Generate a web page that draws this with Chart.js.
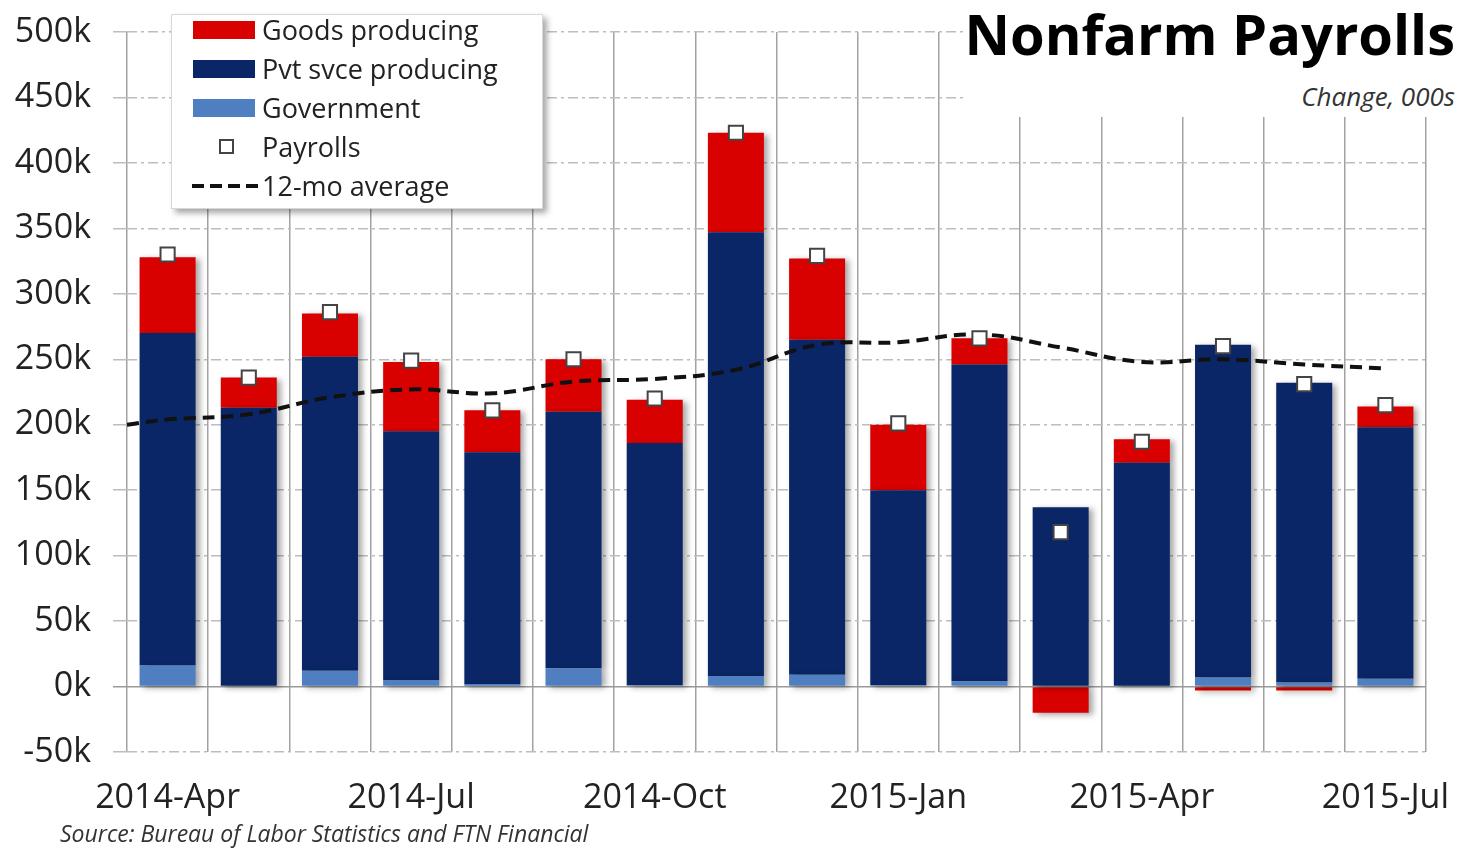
<!DOCTYPE html>
<html>
<head>
<meta charset="utf-8">
<script src="https://cdn.jsdelivr.net/npm/chart.js@4/dist/chart.umd.min.js"></script>
<style>
  body { margin: 0; background: #fff; font-family: "Open Sans", sans-serif; }
  #wrap { position: relative; width: 1464px; height: 848px; }
  #title-box { position: absolute; left: 963px; top: 0; width: 501px; height: 117px; background: #fff; }
  #title { position: absolute; right: 9px; top: 5px; font-size: 56px; font-weight: 700; line-height: 1; color: #000; white-space: nowrap; }
  #subtitle { position: absolute; right: 9px; top: 83px; font-size: 26px; font-style: italic; line-height: 1; color: #333; white-space: nowrap; }
  #legend { position: absolute; left: 171px; top: 14px; width: 370px; height: 193px; background: #fff;
            border: 1px solid #d8d8d8; box-shadow: 4px 4px 6px rgba(0,0,0,0.35); }
  .sw { position: absolute; left: 21px; width: 62px; height: 18px; }
  .lbl { position: absolute; left: 90px; font-size: 27px; line-height: 1; color: #222; white-space: nowrap; }
  .box { position: absolute; left: 47px; width: 11px; height: 11px; border: 2px solid #444; background: #fff; }
  .dash { position: absolute; left: 20px; width: 68px; height: 4px;
          background: repeating-linear-gradient(90deg, #111 0 12px, transparent 12px 18px); }
  #source { position: absolute; left: 60px; top: 822px; font-size: 23px; font-style: italic; line-height: 1; color: #333; white-space: nowrap; }
</style>
</head>
<body>
<div id="wrap">
  <canvas id="payrolls"></canvas>
  <div id="title-box">
    <div id="title">Nonfarm Payrolls</div>
    <div id="subtitle">Change, 000s</div>
  </div>
  <div id="legend">
    <div class="sw" style="top:6px;background:#d90000"></div>
    <div class="lbl" style="top:1px">Goods producing</div>
    <div class="sw" style="top:45px;background:#0a2666"></div>
    <div class="lbl" style="top:40px">Pvt svce producing</div>
    <div class="sw" style="top:84px;background:#4f7fc0"></div>
    <div class="lbl" style="top:79px">Government</div>
    <div class="box" style="top:124px"></div>
    <div class="lbl" style="top:118px">Payrolls</div>
    <div class="dash" style="top:169px"></div>
    <div class="lbl" style="top:157px">12-mo average</div>
  </div>
  <div id="source">Source: Bureau of Labor Statistics and FTN Financial</div>
</div>
<script>
// monthly change, thousands of jobs
const months = ['2014-Apr', '2014-May', '2014-Jun', '2014-Jul', '2014-Aug', '2014-Sep', '2014-Oct', '2014-Nov',
                '2014-Dec', '2015-Jan', '2015-Feb', '2015-Mar', '2015-Apr', '2015-May', '2015-Jun', '2015-Jul'];
const government = [16, 0, 12, 5, 2, 14, 1, 8, 9, 1, 4, 0, 0, 7, 3, 6];
const pvtServices = [254, 213, 240, 190, 177, 196, 185, 339, 256, 149, 242, 137, 171, 254, 229, 192];
const goods = [58, 23, 33, 53, 32, 40, 33, 76, 62, 50, 20, -20, 18, -3, -3, 16];
const payrolls = [330, 236, 286, 249, 211, 250, 220, 423, 329, 201, 266, 118, 187, 260, 231, 215];
// 12-month average; first entry sits at the left edge of the plot
const avgPos = [-0.5, 0, 1, 2, 3, 4, 5, 6, 7, 8, 9, 10, 11, 12, 13, 14, 15];
const avg12 = [200, 204, 208, 221, 227, 224, 233, 235, 242, 261, 263, 269, 259, 248, 250, 246, 243];
const shownLabels = ['2014-Apr', '2014-Jul', '2014-Oct', '2015-Jan', '2015-Apr', '2015-Jul'];

const FONT = '"Open Sans", sans-serif';

// soft drop shadow under the columns
const barShadow = {
    id: 'barShadow',
    beforeDatasetDraw(chart, args) {
        if (args.meta.type !== 'bar') return;
        const ctx = chart.ctx;
        ctx.save();
        ctx.shadowColor = 'rgba(0,0,0,0.35)';
        ctx.shadowBlur = 6;
        ctx.shadowOffsetX = 4;
        ctx.shadowOffsetY = 2;
    },
    afterDatasetDraw(chart, args) {
        if (args.meta.type !== 'bar') return;
        chart.ctx.restore();
    }
};

const barCommon = { stack: 'jobs', order: 2, grouped: false, barPercentage: 0.69, categoryPercentage: 1, borderWidth: 0 };

new Chart(document.getElementById('payrolls'), {
    type: 'bar',
    data: {
        labels: months,
        datasets: [
            { ...barCommon, label: 'Government', data: government, backgroundColor: '#4f7fc0' },
            { ...barCommon, label: 'Pvt svce producing', data: pvtServices, backgroundColor: '#0a2666' },
            { ...barCommon, label: 'Goods producing', data: goods, backgroundColor: '#d90000' },
            {
                type: 'line', label: 'Payrolls', data: payrolls, stack: 'total', order: 0,
                showLine: false, pointStyle: 'rect', pointRadius: 10, pointBorderWidth: 2,
                pointBackgroundColor: '#fff', pointBorderColor: '#444'
            },
            {
                type: 'line', label: '12-mo average', xAxisID: 'xl', stack: 'avg', order: 1,
                data: avgPos.map((p, i) => ({ x: p, y: avg12[i] })),
                borderColor: '#111', borderWidth: 4, borderDash: [12, 7],
                tension: 0.4, pointRadius: 0, fill: false
            }
        ]
    },
    options: {
        responsive: true,
        maintainAspectRatio: false,
        animation: false,
        layout: { padding: { left: 0, top: 32, right: 38, bottom: 0 } },
        plugins: { legend: { display: false }, tooltip: { enabled: false } },
        scales: {
            x: {
                stacked: true,
                border: { display: false },
                grid: { offset: true, color: '#a2a2a2', lineWidth: 1.5, drawTicks: false },
                ticks: {
                    autoSkip: false, maxRotation: 0, padding: 26, color: '#222',
                    font: { family: FONT, size: 34 },
                    callback: function (value) {
                        const lbl = this.getLabelForValue(value);
                        return shownLabels.includes(lbl) ? lbl : '';
                    }
                },
                afterFit: (scale) => {
                    scale.height = 96;
                    scale.paddingLeft = 0;
                    scale.paddingRight = 0;
                }
            },
            xl: { type: 'linear', display: false, offset: false, min: -0.5, max: 15.5 },
            y: {
                stacked: true,
                min: -50, max: 500,
                border: {
                    display: false,
                    dash: (ctx) => (ctx.tick && ctx.tick.value === 0 ? [] : [10, 4, 3, 4])
                },
                grid: {
                    color: (ctx) => (ctx.tick && ctx.tick.value === 0 ? '#9a9a9a' : '#bdbdbd'),
                    lineWidth: 1.5, tickLength: 14
                },
                ticks: {
                    stepSize: 50, padding: 22, color: '#222',
                    font: { family: FONT, size: 34 },
                    callback: (v) => v + 'k'
                },
                afterFit: (scale) => {
                    scale.width = 127;
                    scale.paddingTop = 0;
                    scale.paddingBottom = 0;
                }
            }
        }
    },
    plugins: [barShadow]
});
</script>
</body>
</html>
